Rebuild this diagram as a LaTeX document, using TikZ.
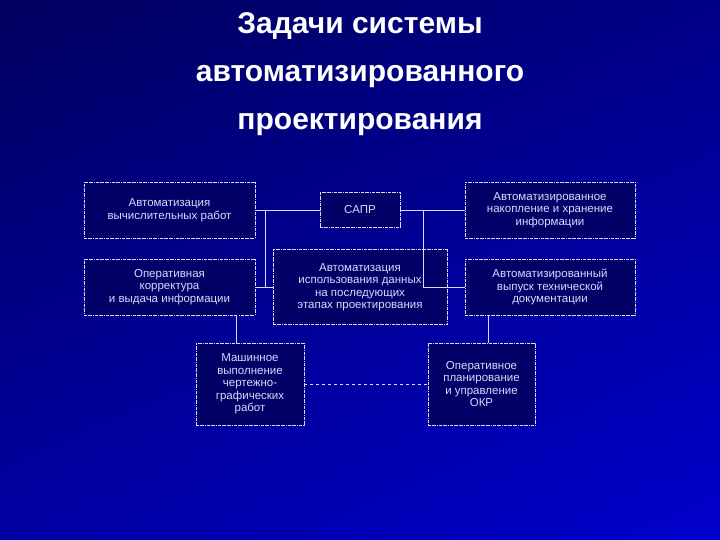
\documentclass[tikz,border=0pt]{standalone}
\usepackage{fontspec}
\setmainfont{Liberation Sans}
\begin{document}
\begin{tikzpicture}[x=1pt,y=-1pt,
 bx/.style={draw=white!85!blue,densely dashdotted,line width=0.8pt,fill=blue!40!black,text=white!85!blue,align=center,font=\fontsize{11.5}{12.5}\selectfont,inner sep=1pt},
 ln/.style={draw=white!85!blue,line width=0.8pt}]
\shade[top color=blue!35!black,bottom color=blue!80!black] (0,0) rectangle (720,540);
\shade[left color=blue!40!black,right color=blue!80!black,opacity=0.4] (0,0) rectangle (720,540);
\node[font=\bfseries\fontsize{30}{48}\selectfont,text=white,align=center] (t) at (360,74) {Задачи системы\\автоматизированного\\проектирования};
\node[bx,minimum width=171,minimum height=56] (A) at (169.5,210) {Автоматизация\\вычислительных работ};
\node[bx,minimum width=80,minimum height=35] (S) at (360,210) {САПР};
\node[bx,minimum width=170,minimum height=56] (B) at (550,210) {Автоматизированное\\накопление и хранение\\информации};
\node[bx,minimum width=171,minimum height=56] (C) at (169.5,287) {Оперативная\\корректура\\и выдача информации};
\node[bx,minimum width=174,minimum height=75] (D) at (360,287) {Автоматизация\\использования данных\\на последующих\\этапах проектирования};
\node[bx,minimum width=170,minimum height=56] (E) at (550,287) {Автоматизированный\\выпуск технической\\документации};
\node[bx,minimum width=108,minimum height=82] (F) at (250,384) {Машинное\\выполнение\\чертежно-\\графических\\работ};
\node[bx,minimum width=107,minimum height=82] (G) at (481.5,384) {Оперативное\\планирование\\и управление\\ОКР};
\coordinate (j1) at (265,210);
\coordinate (j2) at (423,210);
\coordinate (f1) at (237,343);
\coordinate (g1) at (488,343);
\draw[ln] (A.east) -- (S.west);
\draw[ln] (S.east) -- (B.west);
\draw[ln] (j1) -- (j1 |- D.west) -- (D.west);
\draw[ln] (C.east) -- (D.west);
\draw[ln] (j2) -- (j2 |- D.east) -- (D.east);
\draw[ln] (D.east) -- (E.west);
\draw[ln,double=blue!40!black] (C.south -| f1) -- (f1);
\draw[ln] (E.south -| g1) -- (g1);
\draw[ln,dashed] (F.east) -- (G.west);
\end{tikzpicture}
\end{document}
